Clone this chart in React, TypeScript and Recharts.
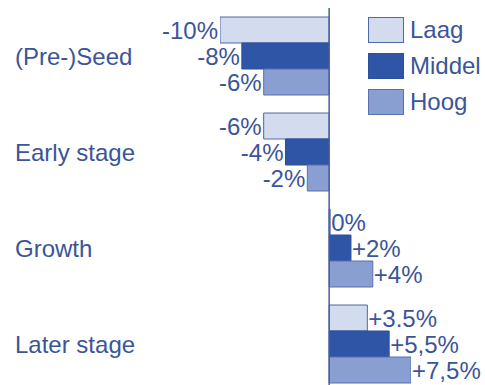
import { BarChart, Bar, XAxis, YAxis, Legend, LabelList, ReferenceLine } from 'recharts'

const stages = ['(Pre-)Seed', 'Early stage', 'Growth', 'Later stage']
const laag = [-10, -6, 0, 3.5]
const middel = [-8, -4, 2, 5.5]
const hoog = [-6, -2, 4, 7.5]
const laagLabels = ['-10%', '-6%', '0%', '+3.5%']
const middelLabels = ['-8%', '-4%', '+2%', '+5,5%']
const hoogLabels = ['-6%', '-2%', '+4%', '+7,5%']

const data = stages.map((name, i) => ({
  name,
  laag: laag[i],
  middel: middel[i],
  hoog: hoog[i],
  laagLabel: laagLabels[i],
  middelLabel: middelLabels[i],
  hoogLabel: hoogLabels[i],
}))

const textColor = '#3b5598'
const font = '"Liberation Sans", Arial, sans-serif'
const fontSize = 24

const series = [
  { key: 'laag', name: 'Laag', fill: '#d3dbef', stroke: '#5068a8' },
  { key: 'middel', name: 'Middel', fill: '#2f55a6', stroke: '#2c4f9c' },
  { key: 'hoog', name: 'Hoog', fill: '#8a9fd1', stroke: '#5a70b0' },
]

const renderLabel = (props: any) => {
  const { x, y, width, height, value } = props
  const neg = width < 0
  const left = Math.min(x, x + width)
  const right = Math.max(x, x + width)
  return (
    <text
      x={neg ? left - 2 : right + 1}
      y={y + height / 2}
      dy="0.36em"
      textAnchor={neg ? 'end' : 'start'}
      fill={textColor}
      fontSize={fontSize}
      fontFamily={font}
    >
      {value}
    </text>
  )
}

const StageTick = ({ y, payload }: any) => (
  <text x={15} y={y} dy="0.36em" textAnchor="start" fill={textColor} fontSize={fontSize} fontFamily={font}>
    {payload.value}
  </text>
)

const LegendBox = () => (
  <div style={{ fontFamily: font }}>
    {series.map((s) => (
      <div key={s.key} style={{ display: 'flex', alignItems: 'center', height: 36 }}>
        <div
          style={{
            width: 36,
            height: 26,
            boxSizing: 'border-box',
            background: s.fill,
            border: `1px solid ${s.stroke}`,
          }}
        />
        <span style={{ marginLeft: 6, fontSize, color: textColor }}>{s.name}</span>
      </div>
    ))}
  </div>
)

export default function App() {
  return (
    <div style={{ position: 'absolute', left: 0, top: 0, width: 485, height: 385, overflow: 'hidden', background: '#fff' }}>
      <BarChart
        width={485}
        height={392}
        data={data}
        layout="vertical"
        margin={{ top: 8, right: 74, left: 0, bottom: 0 }}
        barCategoryGap={9}
        barGap={0}
      >
        <XAxis type="number" domain={[-10, 7.5]} allowDataOverflow hide />
        <YAxis type="category" dataKey="name" width={220} axisLine={false} tickLine={false} tick={<StageTick />} />
        {series.map((s) => (
          <Bar
            key={s.key}
            dataKey={s.key}
            name={s.name}
            fill={s.fill}
            stroke={s.stroke}
            strokeWidth={1}
            minPointSize={1}
            isAnimationActive={false}
          >
            <LabelList dataKey={`${s.key}Label`} content={renderLabel} />
          </Bar>
        ))}
        <ReferenceLine x={0} stroke="#4a5f9c" strokeWidth={1.5} />
        <Legend
          layout="vertical"
          align="center"
          verticalAlign="middle"
          wrapperStyle={{ left: 368, top: 12, width: 'auto' }}
          content={<LegendBox />}
        />
      </BarChart>
    </div>
  )
}
